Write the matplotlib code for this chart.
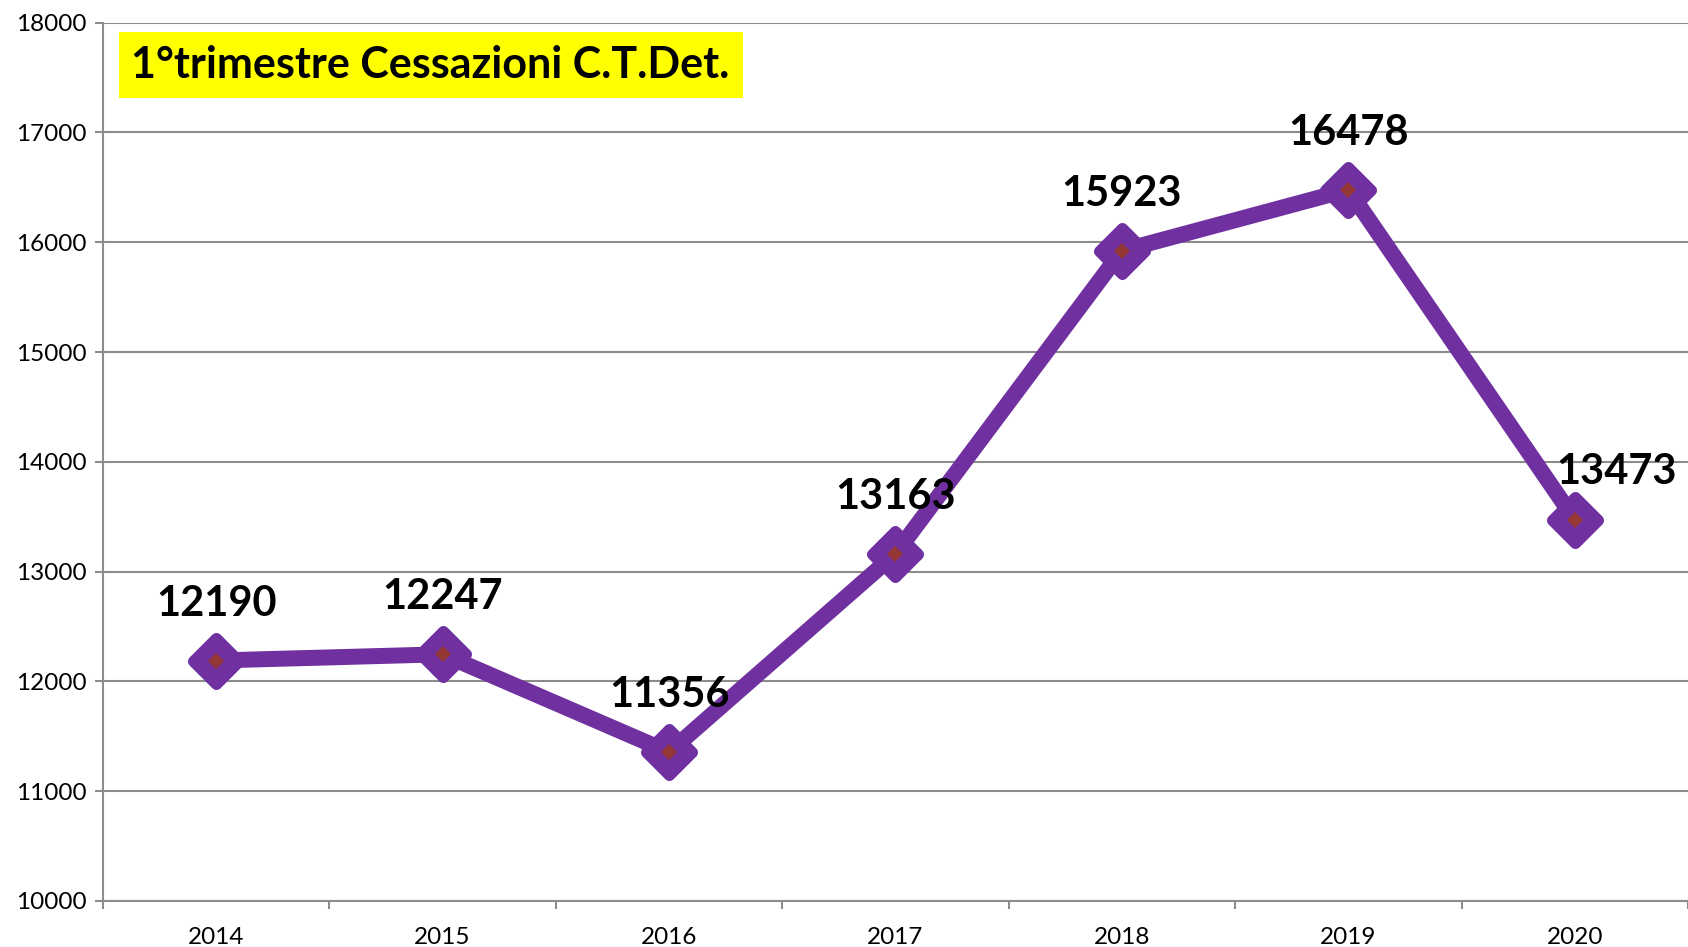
import numpy as np
import matplotlib.pyplot as plt
from matplotlib.markers import MarkerStyle

years = ["2014", "2015", "2016", "2017", "2018", "2019", "2020"]
values = [12190, 12247, 11356, 13163, 15923, 16478, 13473]
title = "1°trimestre Cessazioni C.T.Det."

purple = "#7030A0"
brown = "#953735"
grid_gray = "#8C8C8C"

plt.rcParams['font.family'] = ['Lato', 'DejaVu Sans']

fig = plt.figure(figsize=(16.88, 9.47), dpi=100)
ax = fig.add_axes([0.061, 0.0486, 0.939, 0.9275])

x = np.arange(len(years))

# thick line with big rounded purple diamonds
ax.plot(x, values, color=purple, linewidth=11.5, solid_joinstyle='round',
        marker=MarkerStyle('D', joinstyle='round'), markersize=23,
        markerfacecolor=purple, markeredgecolor=purple, markeredgewidth=8,
        zorder=3)
# small brown centres
ax.plot(x, values, linestyle='none', marker='D', markersize=8.5,
        markerfacecolor=brown, markeredgecolor=brown, markeredgewidth=0,
        zorder=4)

# data labels
for i, v in enumerate(values):
    dx = 30 if i == len(values) - 1 else 0
    dy = 34 if i == len(values) - 1 else 41
    ax.annotate(str(v), (x[i], v), xytext=(dx, dy), textcoords='offset points',
                ha='center', va='center', fontsize=30, fontweight='bold',
                color='black', zorder=5)

ax.set_xlim(-0.5, len(years) - 0.5)
ax.set_ylim(10000, 18000)
ax.set_yticks(np.arange(10000, 18001, 1000))
ax.set_xticks(x)
ax.set_xticklabels(years)
ax.set_xticks(np.arange(-0.5, len(years)), minor=True)

ax.grid(axis='y', color=grid_gray, linewidth=1.5)
ax.set_axisbelow(True)
for s in ['top', 'right']:
    ax.spines[s].set_visible(False)
for s in ['left', 'bottom']:
    ax.spines[s].set_color(grid_gray)
    ax.spines[s].set_linewidth(1.5)

ax.tick_params(axis='y', direction='out', length=6, width=1.5, color=grid_gray,
               labelsize=17.5, pad=6)
ax.tick_params(axis='x', which='major', length=0, labelsize=17.5, pad=19)
ax.tick_params(axis='x', which='minor', direction='out', length=6, width=1.5,
               color=grid_gray)

ax.text(0.018, 0.952, title, transform=ax.transAxes, ha='left', va='center',
        fontsize=31, fontweight='bold', color='black',
        bbox=dict(boxstyle='square,pad=0.3', facecolor='#FFFF00',
                  edgecolor='none'))

fig.savefig('out.png', dpi=100)
